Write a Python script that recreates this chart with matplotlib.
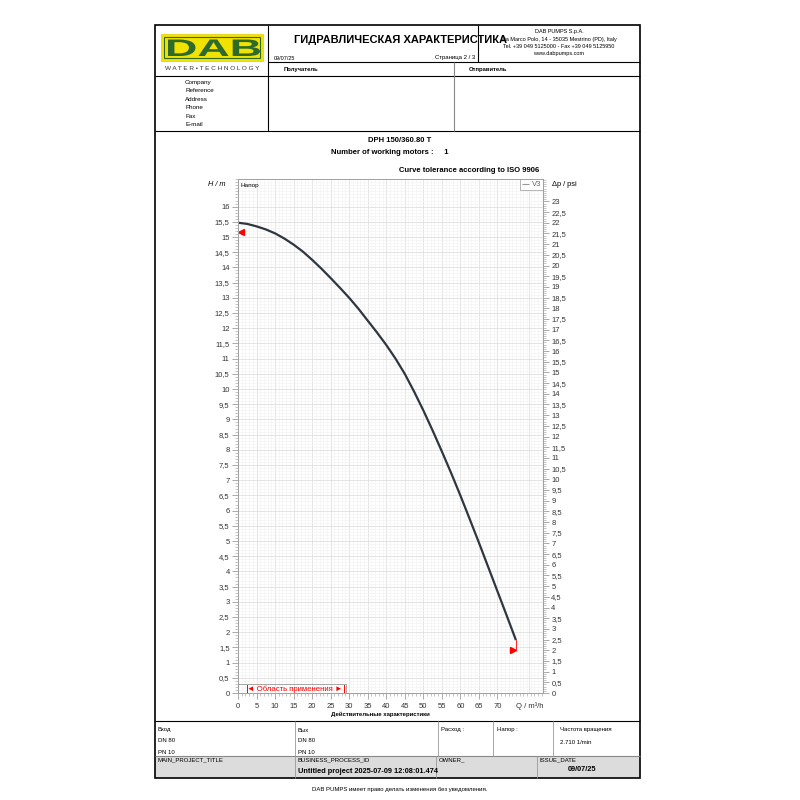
import matplotlib
matplotlib.use('Agg')
import matplotlib.pyplot as plt
from matplotlib.patches import Rectangle, PathPatch
from matplotlib.textpath import TextPath
from matplotlib.font_manager import FontProperties
from matplotlib.transforms import Affine2D
from matplotlib.ticker import MultipleLocator, FixedLocator, FuncFormatter

plt.rcParams['font.family'] = ['Liberation Sans', 'DejaVu Sans']

# pump curve (Q in m3/h, H in m)
flow = [0, 2.5, 5, 7.5, 10, 12.5, 15, 17.5, 20, 22.5, 25, 27.5, 30, 32.5, 35, 37.5,
        40, 42.5, 45, 47.5, 50, 52.5, 55, 57.5, 60, 62.5, 65, 67.5, 70, 72.5, 75]
head = [15.47, 15.43, 15.35, 15.25, 15.12, 14.95, 14.75, 14.52, 14.25, 13.96, 13.65,
        13.33, 13.0, 12.64, 12.25, 11.86, 11.45, 11.0, 10.5, 9.92, 9.3, 8.64, 7.95,
        7.24, 6.5, 5.73, 4.95, 4.15, 3.35, 2.55, 1.74]
curve_name = 'V3'

# tolerance markers and range of use
tol_left = (0.9, 15.16)
tol_right = (74.2, 1.41)
use_range = (2.3, 28.5)

x_ticks = [0, 5, 10, 15, 20, 25, 30, 35, 40, 45, 50, 55, 60, 65, 70]
M_PER_PSI = 0.70307

addr_lines = ['DAB PUMPS S.p.A.', 'Via Marco Polo, 14 - 35035 Mestrino (PD), Italy',
              'Tel. +39 049 5125000 - Fax +39 049 5125950', 'www.dabpumps.com']
contact_fields = ['Company', 'Reference', 'Address', 'Phone', 'Fax', 'E-mail']


def comma(v, _pos=None):
    return ('%g' % v).replace('.', ',')


fig = plt.figure(figsize=(8, 8), dpi=100)

# page layer in pixel coordinates
page = fig.add_axes([0, 0, 1, 1])
page.set_xlim(0, 800)
page.set_ylim(800, 0)
page.axis('off')


def line(x0, y0, x1, y1, c='black', lw=0.8):
    page.plot([x0, x1], [y0, y1], color=c, lw=lw, solid_capstyle='butt')


def txt(x, y, s, size=4.5, ha='left', **kw):
    page.text(x, y, s, fontsize=size, ha=ha, va='center', **kw)


# frame
page.add_patch(Rectangle((155, 756), 485, 22, fc='#dcdcdc', ec='none'))
page.add_patch(Rectangle((155, 25), 485, 753, fill=False, ec='black', lw=1.2))
line(268, 62, 640, 62)
line(155, 76, 640, 76)
line(155, 131, 640, 131)
line(268, 25, 268, 131)
line(478, 25, 478, 62)
line(454, 62, 454, 131, c='#888888')
line(155, 721, 640, 721)
line(155, 756, 640, 756, c='#888888')
for xv in [295, 438, 493, 553]:
    line(xv, 721, xv, 756, c='#999999', lw=0.6)
for xv in [295, 436, 537]:
    line(xv, 756, xv, 778, c='#999999', lw=0.6)

# logo: wide letters stretched into the badge
page.add_patch(Rectangle((161, 34), 102, 27, fc='#f2e200', ec='#e0d000', lw=0.5))
page.add_patch(Rectangle((164, 37), 96, 21, fill=False, ec='#2e6b2a', lw=0.8))
logo_path = TextPath((0, 0), 'DAB', size=10, prop=FontProperties(family='Liberation Sans', weight='bold'))
ext = logo_path.get_extents()
sx = (260 - 168) / ext.width
sy = (56 - 39.5) / ext.height
tr = Affine2D().translate(-ext.x0, -ext.y0).scale(sx, -sy).translate(168, 56)
page.add_patch(PathPatch(tr.transform_path(logo_path), fc='#2e6b2a', ec='none'))
txt(212, 68.5, 'W A T E R \u2022 T E C H N O L O G Y', size=4.6, ha='center', color='#333333')

# header
for i, s in enumerate(addr_lines):
    txt(559, 32 + i * 7, s, size=4.0, ha='center')
txt(400, 40, 'ГИДРАВЛИЧЕСКАЯ ХАРАКТЕРИСТИКА', size=8, ha='center', fontweight='bold')
txt(274, 58, '09/07/25', size=4)
txt(475, 58, 'Страница 2 / 3', size=4.3, ha='right')
txt(284, 70, 'Получатель', size=4.2, fontweight='bold')
txt(469, 70, 'Отправитель', size=4.2, fontweight='bold')
for i, s in enumerate(contact_fields):
    txt(185 + (1 if s in ('Fax', 'E-mail') else 0), 82.5 + i * 8.4, s, size=4.5)

# chart titles
txt(400, 141, 'DPH 150/360.80 T', size=5.5, ha='center', fontweight='bold')
txt(390, 153, 'Number of working motors :     1', size=5.5, ha='center', fontweight='bold')
txt(539, 171, 'Curve tolerance according to ISO 9906', size=5.5, ha='right', fontweight='bold')
txt(226, 185, 'H / m', size=5.3, ha='right', fontstyle='italic')
txt(552, 185, '\u0394p / psi', size=5.3)
txt(380, 714, 'Действительные характеристики', size=4.3, ha='center', fontweight='bold')

# bottom table
txt(158, 730, 'Вход', size=4.3)
txt(158, 741, 'DN 80', size=4.3)
txt(158, 752, 'PN 10', size=4.3)
txt(298, 730, 'Вых', size=4.3)
txt(298, 741, 'DN 80', size=4.3)
txt(298, 752, 'PN 10', size=4.3)
txt(441, 730, 'Расход :', size=4.3)
txt(497, 730, 'Напор :', size=4.3)
txt(560, 730, 'Частота вращения', size=4.3)
txt(560, 743, '2.710 1/min', size=4.3)
txt(158, 760, 'MAIN_PROJECT_TITLE', size=4.3)
txt(298, 760, 'BUSINESS_PROCESS_ID', size=4.3)
txt(298, 771.5, 'Untitled project 2025-07-09 12:08:01.474', size=5.3, fontweight='bold')
txt(439, 760, 'OWNER_', size=4.3)
txt(540, 760, 'ISSUE_DATE', size=4.3)
txt(582, 769.5, '09/07/25', size=5.3, ha='center', fontweight='bold')
txt(400, 790, 'DAB PUMPS имеет право делать изменения без уведомления.', size=4.3, ha='center')

# chart
ax = fig.add_axes([238 / 800, 1 - 693 / 800, 305 / 800, 514 / 800])
ymax = 514 / 30.4
ax.set_xlim(0, 305 / 3.7057)
ax.set_ylim(0, ymax)

ax.xaxis.set_major_locator(MultipleLocator(5))
ax.xaxis.set_minor_locator(MultipleLocator(1))
ax.yaxis.set_major_locator(MultipleLocator(0.5))
ax.yaxis.set_minor_locator(MultipleLocator(0.1))
ax.grid(which='major', color='#dadada', lw=0.5)
ax.grid(which='minor', color='#f1f1f1', lw=0.4)
ax.set_axisbelow(True)
for sp in ax.spines.values():
    sp.set_color('#a0a0a0')
    sp.set_linewidth(0.6)

ax.plot(flow, head, color='#2f3640', lw=1.6, label=curve_name, solid_capstyle='butt')
ax.plot([tol_left[0]], [tol_left[1]], marker='<', color='red', ms=4, clip_on=False)
ax.plot([tol_right[0]], [tol_right[1]], marker='>', color='red', ms=4)
ax.plot([flow[-1], flow[-1]], [head[-1], tol_right[1]], color='red', lw=0.6)

ax.add_patch(Rectangle((0, 0), 29.25, 0.29, fill=False, ec='#999999', lw=0.6))
for q in use_range:
    ax.plot([q, q], [0.02, 0.27], color='red', lw=0.7)
ax.text(sum(use_range) / 2, 0.13, '\u25c4 Область применения \u25ba', color='red',
        fontsize=5.6, ha='center', va='center')
ax.text(0.8, ymax - 0.12, 'Напор', fontsize=4.6, ha='left', va='top')

leg = ax.legend(loc='upper right', borderaxespad=0, fontsize=5.5, handlelength=1.0,
                handletextpad=0.3, borderpad=0.25, fancybox=False, framealpha=1)
leg.get_frame().set_edgecolor('#999999')
leg.get_frame().set_linewidth(0.5)
leg.get_lines()[0].set_color('#999999')
leg.get_lines()[0].set_linewidth(0.8)
for t in leg.get_texts():
    t.set_color('#666666')

# ticks
ax.yaxis.set_major_locator(FixedLocator([i * 0.5 for i in range(33)]))
ax.yaxis.set_major_formatter(FuncFormatter(comma))
ax.tick_params(axis='y', which='major', length=4, width=0.5, color='#888888',
               labelsize=5.5, pad=2, labelcolor='#333333')
ax.tick_params(axis='y', which='minor', length=2.5, width=0.4, color='#999999')
ax.xaxis.set_major_locator(FixedLocator(x_ticks + [78.6]))
ax.set_xticklabels([str(v) for v in x_ticks] + ['Q / m\u00b3/h'])
ax.tick_params(axis='x', which='major', length=4, width=0.5, color='#888888',
               labelsize=5.5, pad=3, labelcolor='#333333')
ax.tick_params(axis='x', which='minor', length=2.5, width=0.4, color='#999999')
ax.xaxis.get_major_ticks()[-1].tick1line.set_visible(False)

ax2 = ax.twinx()
ax2.set_ylim(0, ymax / M_PER_PSI)
ax2.yaxis.set_major_locator(FixedLocator([i * 0.5 for i in range(47)]))
ax2.yaxis.set_minor_locator(MultipleLocator(0.1))
ax2.yaxis.set_major_formatter(FuncFormatter(comma))
ax2.tick_params(axis='y', which='major', length=4, width=0.5, color='#888888',
                labelsize=5.5, pad=2, labelcolor='#333333')
ax2.tick_params(axis='y', which='minor', length=2.5, width=0.4, color='#999999')
for sp in ax2.spines.values():
    sp.set_color('#a0a0a0')
    sp.set_linewidth(0.6)

fig.savefig('out.png', dpi=100, facecolor='white')
